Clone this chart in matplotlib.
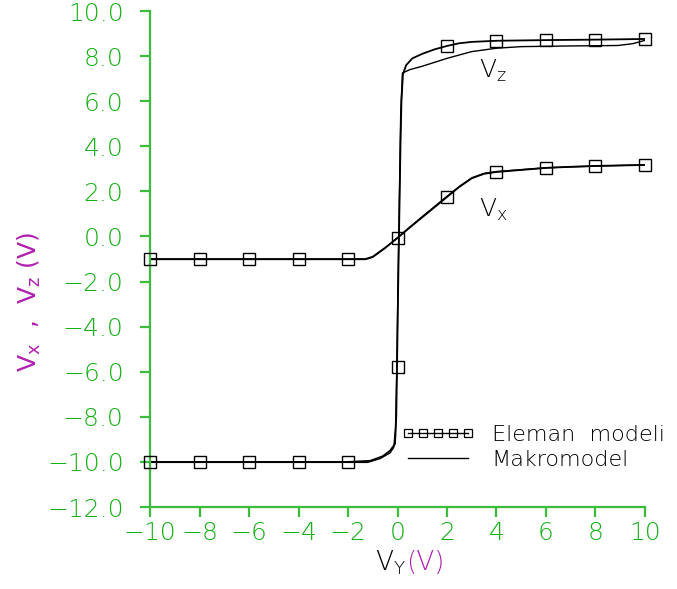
import matplotlib
matplotlib.use("Agg")
import matplotlib.pyplot as plt
from matplotlib.lines import Line2D

plt.rcParams['font.family'] = ['DejaVu Sans']
plt.rcParams['font.weight'] = 'light'
plt.rcParams['mathtext.default'] = 'regular'

GREEN = '#14b014'
AXGREEN = '#3cbc3c'
MAGENTA = '#b020b0'

# Eleman modeli: sample points (markers) at every 2 V
vy_pts = [-10, -8, -6, -4, -2, 0, 2, 4, 6, 8, 10]
vx_pts = [-1.0, -1.0, -1.0, -1.0, -1.0, -0.07, 1.75, 2.86, 3.04, 3.13, 3.17]
vz_pts = [-10.0, -10.0, -10.0, -10.0, -10.0, -5.8, 8.45, 8.68, 8.71, 8.73, 8.76]

# Eleman modeli: full transfer curves
el_vy_x = [-10, -2, -1.3, -1.0, -0.5, 0, 0.5, 1.0, 1.5, 2.0, 2.5, 3.0, 3.5, 4.0, 5.0, 6.0, 7.0, 8.0, 9.0, 10.0]
el_vx = [-1.0, -1.0, -1.0, -0.9, -0.5, -0.07, 0.4, 0.85, 1.3, 1.75, 2.2, 2.58, 2.78, 2.86, 2.95, 3.04, 3.09, 3.13, 3.15, 3.17]
el_vy_z = [-10, -2, -1.1, -0.6, -0.3, -0.1, -0.05, -0.02, 0.03, 0.07, 0.12, 0.16, 0.22,
           0.35, 0.6, 1.0, 1.5, 2.0, 2.5, 3.0, 4.0, 6.0, 8.0, 10.0]
el_vz = [-10.0, -10.0, -9.95, -9.75, -9.5, -9.2, -8.0, -5.8, -2.0, 0.7, 4.0, 6.0, 7.2,
         7.6, 7.9, 8.1, 8.3, 8.45, 8.57, 8.63, 8.68, 8.71, 8.73, 8.76]

# Makromodel curves
mk_vy_x = [-10, -1.3, -1.0, -0.5, 0, 0.5, 1.0, 1.5, 2.0, 2.5, 3.0, 3.5, 4.0, 6.0, 8.0, 10.0]
mk_vx = [-1.02, -1.02, -0.92, -0.52, -0.05, 0.42, 0.88, 1.33, 1.78, 2.22, 2.6, 2.8, 2.88, 3.05, 3.12, 3.18]
mk_vy_z = [-10, -1.2, -0.7, -0.3, -0.15, -0.08, -0.03, 0.02, 0.08, 0.13, 0.2, 0.5, 1.0,
           2.0, 3.0, 4.0, 5.0, 7.0, 8.9, 9.5, 10.0]
mk_vz = [-10.02, -10.02, -9.85, -9.6, -9.35, -8.5, -6.0, -2.0, 2.0, 5.5, 7.25, 7.4, 7.55,
         7.9, 8.2, 8.35, 8.42, 8.45, 8.47, 8.55, 8.7]

yticks = [10, 8, 6, 4, 2, 0, -2, -4, -6, -8, -10, -12]
xticks = [-10, -8, -6, -4, -2, 0, 2, 4, 6, 8, 10]

fig = plt.figure(figsize=(6.77, 5.89), dpi=100)
ax = fig.add_axes([0.2216, 0.1392, 0.7311, 0.8421])

ax.plot(el_vy_x, el_vx, color='black', lw=1.3)
ax.plot(el_vy_z, el_vz, color='black', lw=1.3)
ax.plot(mk_vy_x, mk_vx, color='black', lw=1.0)
ax.plot(mk_vy_z, mk_vz, color='black', lw=1.0)
for ys in (vx_pts, vz_pts):
    ax.plot(vy_pts, ys, ls='none', marker='s', ms=8, mfc='none', mec='black',
            mew=1.0, clip_on=False, zorder=4)

ax.text(3.3, 7.35, '$V_z$', fontsize=18, color='black', ha='left', va='center')
ax.text(3.3, 1.2, '$V_x$', fontsize=18, color='black', ha='left', va='center')

ax.set_xlim(-10, 10)
ax.set_ylim(-12, 10)
ax.set_xticks(xticks)
ax.set_yticks(yticks)
ax.set_yticklabels([f'{v:.1f}'.replace('-', '\u2212') for v in yticks])
ax.set_xticklabels([f'{v}'.replace('-', '\u2212') for v in xticks])

for s in ('top', 'right'):
    ax.spines[s].set_visible(False)
for s in ('left', 'bottom'):
    ax.spines[s].set_color(AXGREEN)
    ax.spines[s].set_linewidth(1.6)
ax.tick_params(axis='both', direction='out', length=7, width=1.6, color=AXGREEN,
               labelcolor=GREEN, labelsize=18)
ax.tick_params(axis='y', pad=12)
ax.tick_params(axis='x', pad=3)

ax.set_ylabel('$V_x$  ,  $V_z$ (V)', color=MAGENTA, fontsize=18)
ax.yaxis.set_label_coords(-0.216, 0.413)

# x axis label in two colours
fig.text(0.6, 0.045, '$V_Y$', color='black', fontsize=19, ha='right', va='center')
fig.text(0.6, 0.045, '(V)', color=MAGENTA, fontsize=19, ha='left', va='center')

handles = [Line2D([], [], color='black', lw=1.0, marker='s', ms=5.5, mfc='none',
                  mec='black', mew=0.9),
           Line2D([], [], color='black', lw=1.0)]
ax.legend(handles, ['Eleman  modeli', 'Makromodel'], numpoints=5, frameon=False,
          fontsize=16, handlelength=3.3, handletextpad=0.75, labelspacing=0.2,
          borderpad=0, loc='upper left', bbox_to_anchor=(0.577, 0.297),
          bbox_transform=fig.transFigure)

fig.savefig('out.png', dpi=100)
